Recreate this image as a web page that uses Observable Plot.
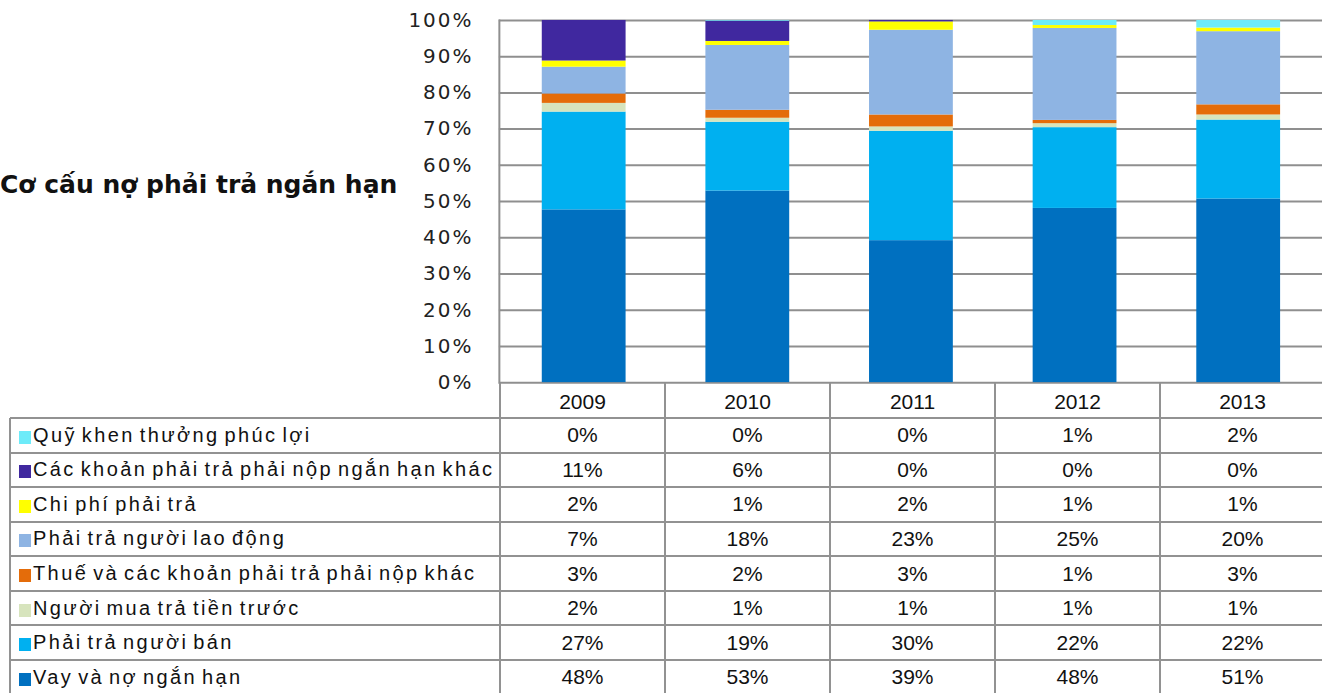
<!DOCTYPE html>
<html>
<head>
<meta charset="utf-8">
<script src="https://cdn.jsdelivr.net/npm/d3@7"></script>
<script src="https://cdn.jsdelivr.net/npm/@observablehq/plot@0.6"></script>
<style>
  html, body { margin:0; padding:0; background:#fff; width:1322px; height:693px; overflow:hidden; }
  #wrap { position:relative; width:1322px; height:693px; overflow:hidden; }
  #chart { position:absolute; left:0; top:0; }
  #title { position:absolute; left:0; top:170px; font-family:"DejaVu Sans"; font-weight:bold; font-size:25px; line-height:30px; color:#111; white-space:nowrap; }
  .hl { position:absolute; height:2px; background:#929292; }
  .vl { position:absolute; width:2px; background:#929292; }
  .cell { position:absolute; display:flex; align-items:center; font-family:"Liberation Sans", Arial, sans-serif; font-size:20px; color:#111; white-space:nowrap; }
  .num { justify-content:center; font-size:21px; }
  .lab { letter-spacing:2.4px; word-spacing:-3px; }
  .sw { display:inline-block; width:12px; height:13px; margin-right:2px; margin-top:4px; }
</style>
</head>
<body>
<div id="wrap">
  <div id="chart"></div>
  <div id="title">Cơ cấu nợ phải trả ngắn hạn</div>
  <div id="table"></div>
</div>
<script>
// Categories
const years = ["2009", "2010", "2011", "2012", "2013"];
// Series, bottom of stack first
const series = [
  "Vay và nợ ngắn hạn",
  "Phải trả người bán",
  "Người mua trả tiền trước",
  "Thuế và các khoản phải trả phải nộp khác",
  "Phải trả người lao động",
  "Chi phí phải trả",
  "Các khoản phải trả phải nộp ngắn hạn khác",
  "Quỹ khen thưởng phúc lợi"
];
const colors = ["#0070C0", "#00B0F0", "#D7E4BD", "#E46C0A", "#8EB4E3", "#FFFF00", "#40289F", "#6DEBF9"];
// Values (% of total), one array per series, by year
const vayNo      = [47.7, 52.9, 39.2, 48.1, 50.7];
const nguoiBan   = [27.0, 19.0, 30.2, 22.3, 21.8];
const nguoiMua   = [2.4, 1.1, 1.2, 1.1, 1.4];
const thue       = [2.6, 2.2, 3.3, 0.9, 2.8];
const laoDong    = [7.4, 17.9, 23.4, 25.4, 20.2];
const chiPhi     = [1.7, 1.1, 2.3, 0.8, 1.0];
const cacKhoan   = [11.2, 5.6, 0.4, 0.0, 0.0];
const quyKhen    = [0.0, 0.2, 0.0, 1.4, 2.1];
const values = [vayNo, nguoiBan, nguoiMua, thue, laoDong, chiPhi, cacKhoan, quyKhen];
// Y tick labels
const yTicks = [0, 10, 20, 30, 40, 50, 60, 70, 80, 90, 100];

const data = series.flatMap((s, i) => years.map((y, j) => ({year: y, series: s, value: values[i][j]})));

const W = 1325, ML = 500;
const chart = Plot.plot({
  width: W, height: 400,
  marginLeft: ML, marginRight: 0, marginTop: 20, marginBottom: 17,
  style: {fontFamily: "DejaVu Sans", fontSize: "20px", letterSpacing: "2px", color: "#222", background: "transparent", overflow: "visible"},
  x: {domain: years, paddingInner: 0.49, paddingOuter: 0.256, axis: null},
  y: {domain: [0, 100], label: null},
  color: {domain: series, range: colors},
  marks: [
    Plot.ruleY(yTicks, {stroke: "#8f8f8f", strokeWidth: 2}),
    Plot.frame({anchor: "left", stroke: "#8f8f8f", strokeWidth: 2}),
    Plot.barY(data, Plot.stackY({x: "year", y: "value", fill: "series"})),
    Plot.axisY({ticks: yTicks, tickFormat: d => d + "%", tickSize: 0, tickPadding: 26, label: null, fill: "#222"})
  ]
});
document.getElementById("chart").appendChild(chart);

// Data table below the chart
const tbl = document.getElementById("table");
const colX = [10, 500, 665, 830, 995, 1160, 1325];
const headTop = 383, rowTop = 418, rowH = 34.57;
const rowsTopDown = series.map((s, i) => i).reverse();
function add(cls, style, html) {
  const d = document.createElement("div");
  d.className = cls;
  Object.assign(d.style, style);
  if (html != null) d.innerHTML = html;
  tbl.appendChild(d);
  return d;
}
const nRows = rowsTopDown.length;
const bottom = rowTop + rowH * nRows;
// horizontal lines
for (let k = 0; k <= nRows; k++) {
  add("hl", {left: colX[0] + "px", top: (rowTop + k * rowH - 1) + "px", width: (W - colX[0]) + "px"});
}
// vertical lines
add("vl", {left: (colX[0] - 1) + "px", top: rowTop + "px", height: (bottom - rowTop) + "px"});
for (let c = 1; c < colX.length - 1; c++) {
  add("vl", {left: (colX[c] - 1) + "px", top: headTop + "px", height: (bottom - headTop) + "px"});
}
// header
years.forEach((y, j) => {
  add("cell num", {left: colX[j + 1] + "px", top: (headTop + 2) + "px", width: (colX[j + 2] - colX[j + 1]) + "px", height: (rowTop - headTop - 2) + "px"}, y);
});
// rows
rowsTopDown.forEach((si, k) => {
  const top = rowTop + k * rowH;
  add("cell lab", {left: (colX[0] + 9) + "px", top: top + "px", width: (colX[1] - colX[0] - 9) + "px", height: rowH + "px"},
      `<span class="sw" style="background:${colors[si]}"></span>${series[si]}`);
  years.forEach((y, j) => {
    add("cell num", {left: colX[j + 1] + "px", top: top + "px", width: (colX[j + 2] - colX[j + 1]) + "px", height: rowH + "px"},
        Math.round(values[si][j]) + "%");
  });
});
</script>
</body>
</html>
